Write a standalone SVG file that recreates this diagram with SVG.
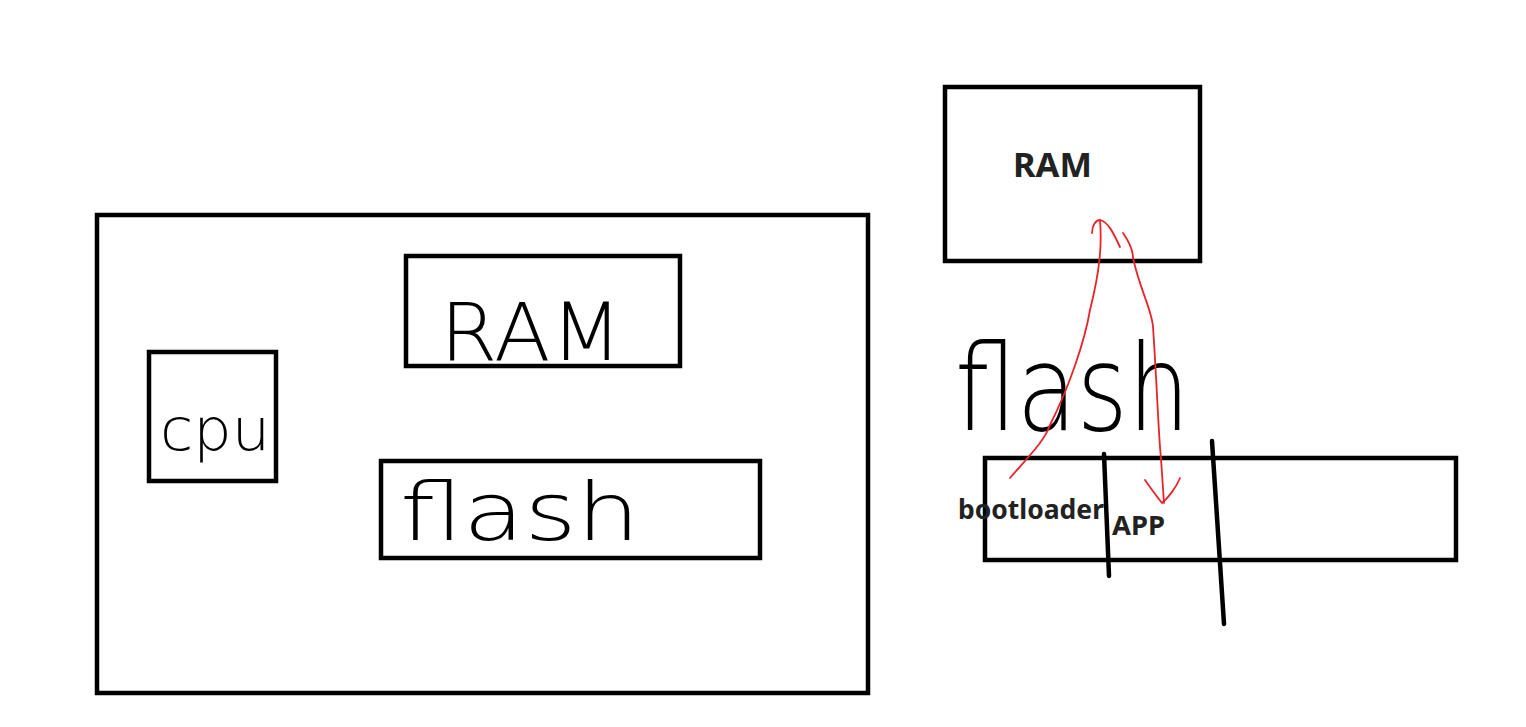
<svg xmlns="http://www.w3.org/2000/svg" width="1526" height="727" viewBox="0 0 1526 727">
<style>
.box{fill:none;stroke:#000;stroke-width:4.5}
.hand{font-family:"DejaVu Sans","Liberation Sans",sans-serif;font-weight:200;fill:#000}
.lbl{font-family:"Noto Sans","Liberation Sans",sans-serif;font-weight:bold;fill:#222}
.red{fill:none;stroke:#e8242a;stroke-width:1.8;stroke-linecap:round;stroke-linejoin:round}
.div{stroke:#000;stroke-width:4.5;stroke-linecap:round}
</style>
<rect width="1526" height="727" fill="#fff"/>
<g id="board">
<rect class="box" x="97" y="215" width="771" height="478"/>
</g>
<g id="cpu">
<rect class="box" x="149" y="352" width="127" height="129"/>
<text class="hand" x="160" y="450" font-size="58" textLength="110" lengthAdjust="spacingAndGlyphs">cpu</text>
</g>
<g id="ram-left">
<rect class="box" x="406" y="256" width="274" height="110"/>
<text class="hand" x="440" y="360" font-size="80" textLength="182" lengthAdjust="spacingAndGlyphs">RAM</text>
</g>
<g id="flash-left">
<rect class="box" x="381" y="461" width="379" height="97"/>
<text class="hand" x="400" y="540" font-size="80" textLength="240" lengthAdjust="spacingAndGlyphs">flash</text>
</g>
<g id="ram-right">
<rect class="box" x="945" y="87" width="255" height="174"/>
<text class="lbl" x="1013" y="177" font-size="34" textLength="79" lengthAdjust="spacingAndGlyphs">RAM</text>
</g>
<g id="flash-label">
<text class="hand" x="955" y="430" font-size="120" textLength="235" lengthAdjust="spacingAndGlyphs">flash</text>
</g>
<g id="flash-right">
<rect class="box" x="985" y="458" width="471" height="102"/>
<line class="div" x1="1104" y1="454" x2="1109" y2="576"/>
<line class="div" x1="1212" y1="441" x2="1224" y2="624"/>
<text class="lbl" x="958" y="519" font-size="26" textLength="146" lengthAdjust="spacingAndGlyphs">bootloader</text>
<text class="lbl" x="1112" y="535" font-size="27" textLength="53" lengthAdjust="spacingAndGlyphs">APP</text>
</g>
<g id="connectors">
<path class="red" d="M1010,478 C1030,455 1045,440 1050,425 C1070,385 1085,340 1090,310 C1100,270 1102,245 1100,220"/>
<path class="red" d="M1092,233 C1092,225 1096,220 1100,220 C1108,222 1113,232 1120,247"/>
<path class="red" d="M1123,233 C1130,243 1133,250 1133,258 C1140,290 1152,310 1153,327 C1156,370 1158,420 1160,447 C1162,470 1163,490 1164,503"/>
<path class="red" d="M1145,480 C1152,490 1158,498 1162,503 C1168,498 1176,488 1180,478"/>
</g>
</svg>
